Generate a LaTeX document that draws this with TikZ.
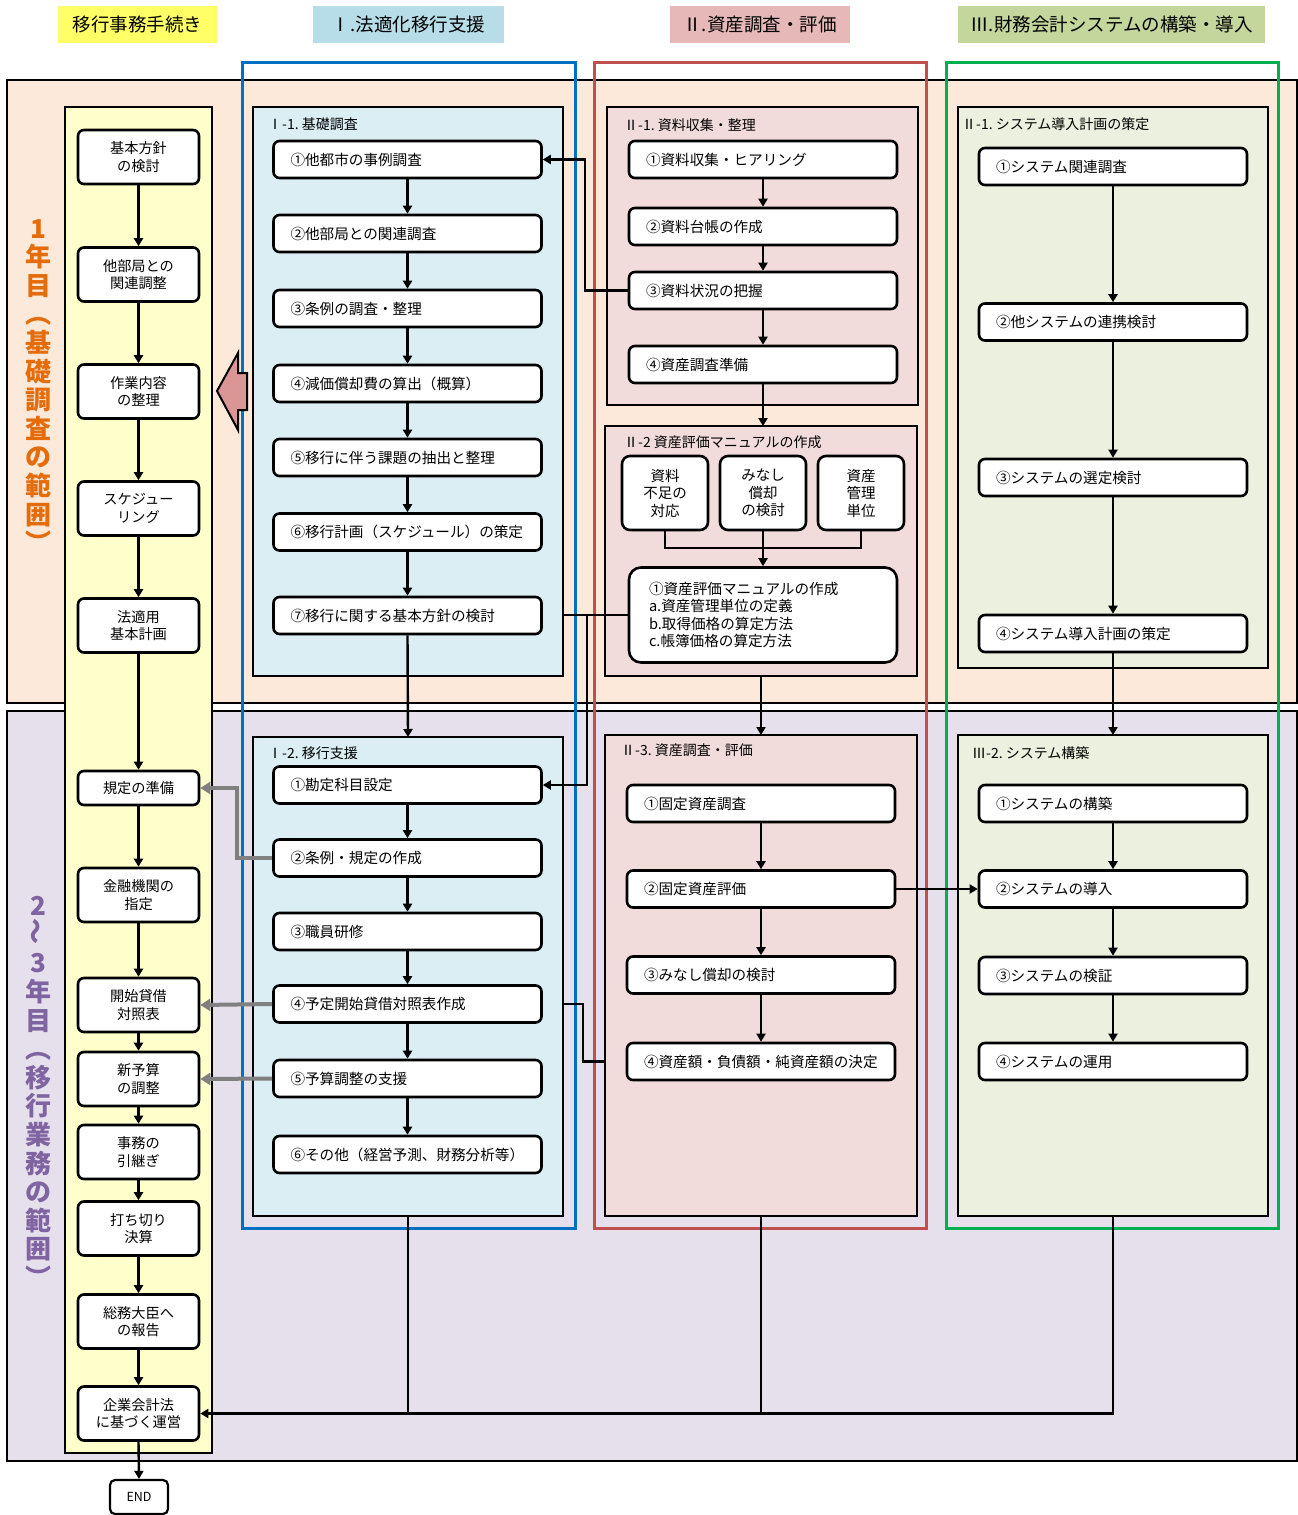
\documentclass[tikz,border=0pt]{standalone}
\usepackage{fontspec}
\usepackage{graphicx}
\setmainfont{Noto Sans CJK JP}
\usetikzlibrary{arrows.meta,calc}
\definecolor{peach}{HTML}{FDE9D9}
\definecolor{lav}{HTML}{E5E0EC}
\definecolor{ycol}{HTML}{FFFFCC}
\definecolor{cblue}{HTML}{DAEEF3}
\definecolor{cpink}{HTML}{F2DCDB}
\definecolor{cgreen}{HTML}{EBF1DE}
\definecolor{oblue}{HTML}{0070C0}
\definecolor{ored}{HTML}{C0504D}
\definecolor{ogreen}{HTML}{00B050}
\definecolor{hyel}{HTML}{FFFF66}
\definecolor{hblue}{HTML}{B7DEE8}
\definecolor{hpink}{HTML}{E6B9B8}
\definecolor{hgreen}{HTML}{C3D69B}
\definecolor{txtor}{HTML}{E46C0A}
\definecolor{txtpu}{HTML}{8064A2}
\definecolor{grayA}{HTML}{808080}
\definecolor{barrow}{HTML}{D99694}
\tikzset{
 stepbox/.style={draw, line width=2.6pt, rounded corners=6pt, fill=white, inner xsep=17pt, inner ysep=0pt, minimum height=37pt, text width=234pt, align=left, font=\fontsize{14.6}{17.5}\selectfont},
 lbox/.style={draw, line width=2.6pt, rounded corners=6pt, fill=white, inner sep=0pt, minimum width=121pt, minimum height=54pt, align=center, font=\fontsize{14.2}{17.5}\selectfont},
 sbox/.style={draw, line width=2.6pt, rounded corners=8pt, fill=white, inner sep=0pt, minimum width=86pt, minimum height=74pt, align=center, font=\fontsize{14.5}{17.5}\selectfont},
 cont/.style={draw, line width=2.6pt, inner sep=0pt, outer sep=0pt},
 zone/.style={draw, line width=3pt, inner sep=0pt, outer sep=0pt},
 conn/.style={line width=2.4pt, -{Triangle[length=8pt,width=9pt]}},
 wire/.style={line width=2.4pt},
 gconn/.style={line width=4pt, draw=grayA, -{Triangle[length=10pt,width=12pt]}},
 hdr/.style={inner sep=0pt, minimum height=37pt, font=\fontsize{18.5}{21}\selectfont},
 clabel/.style={anchor=west, inner sep=0pt, font=\fontsize{14}{16}\selectfont},
 vtext/.style={inner sep=0pt, align=center, font=\fontsize{26}{28.6}\selectfont\bfseries},
}
\begin{document}
\begin{tikzpicture}[x=1pt,y=-1pt]
\useasboundingbox (0,0) rectangle (1298,1515);
% headers
\node[hdr, fill=hyel, minimum width=159pt] (h0) at (137.5,24.5) {移行事務手続き};
\node[hdr, fill=hblue, minimum width=191pt] (h1) at (408.5,24.5) {Ⅰ.法適化移行支援};
\node[hdr, fill=hpink, minimum width=180pt] (h2) at (760,24.5) {Ⅱ.資産調査・評価};
\node[hdr, fill=hgreen, minimum width=307pt] (h3) at (1111.5,24.5) {Ⅲ.財務会計システムの構築・導入};
% bands
\node[cont, fill=peach, minimum width=1290pt, minimum height=623pt] (band1) at (652,391.5) {};
\node[cont, fill=lav, minimum width=1290pt, minimum height=750pt] (band2) at (652,1086) {};
% yellow column
\node[cont, fill=ycol, minimum width=147pt, minimum height=1346pt] (ycolumn) at (138.5,780) {};
% vertical texts
\node[vtext, text=txtor] (v1) at (38,386) {1\\年\\目\\︵\\基\\礎\\調\\査\\の\\範\\囲\\︶};
\node[vtext, text=txtpu] (v2) at (38,1092) {2\\\rotatebox{90}{〜}\\3\\年\\目\\︵\\移\\行\\業\\務\\の\\範\\囲\\︶};
% colored outlines
\node[zone, draw=oblue, minimum width=333pt, minimum height=1166pt] (zone1) at (408.5,645) {};
\node[zone, draw=ored, minimum width=332pt, minimum height=1166pt] (zone2) at (760,645) {};
\node[zone, draw=ogreen, minimum width=332pt, minimum height=1166pt] (zone3) at (1112,645) {};
% containers
\node[cont, fill=cblue, minimum width=310pt, minimum height=569pt] (c11) at (408,391.5) {};
\node[cont, fill=cblue, minimum width=310pt, minimum height=479pt] (c12) at (408,976.5) {};
\node[cont, fill=cpink, minimum width=311pt, minimum height=298pt] (c21) at (762.5,256) {};
\node[cont, fill=cpink, minimum width=312pt, minimum height=250pt] (c22) at (761,551) {};
\node[cont, fill=cpink, minimum width=312pt, minimum height=481pt] (c23) at (761,975.5) {};
\node[cont, fill=cgreen, minimum width=310pt, minimum height=561pt] (c31) at (1113,387.5) {};
\node[cont, fill=cgreen, minimum width=310pt, minimum height=481pt] (c32) at (1113,975.5) {};
% container labels
\node[clabel] (l11) at (268,124) {Ⅰ-1.\ 基礎調査};
\node[clabel] (l12) at (268,753) {Ⅰ-2.\ 移行支援};
\node[clabel] (l21) at (624,125) {Ⅱ-1.\ 資料収集・整理};
\node[clabel] (l22) at (624,442) {Ⅱ-2\ 資産評価マニュアルの作成};
\node[clabel] (l23) at (621,750) {Ⅱ-3.\ 資産調査・評価};
\node[clabel] (l31) at (962,124) {Ⅱ-1.\ システム導入計画の策定};
\node[clabel] (l32) at (972,753) {Ⅲ-2.\ システム構築};
% block arrow
\draw[line width=2pt, fill=barrow] (217,391) -- (238,353) -- (238,373) -- (247,373) -- (247,410) -- (238,410) -- (238,430) -- cycle;
% left column boxes
\node[lbox] (L1) at (138.5,157) {基本方針\\の検討};
\node[lbox] (L2) at (138.5,274.5) {他部局との\\関連調整};
\node[lbox] (L3) at (138.5,391.5) {作業内容\\の整理};
\node[lbox] (L4) at (138.5,508.5) {スケジュー\\リング};
\node[lbox] (L5) at (138.5,625.5) {法適用\\基本計画};
\node[lbox, minimum height=34pt] (L6) at (138.5,788) {規定の準備};
\node[lbox] (L7) at (138.5,895) {金融機関の\\指定};
\node[lbox] (L8) at (138.5,1005) {開始貸借\\対照表};
\node[lbox] (L9) at (138.5,1079) {新予算\\の調整};
\node[lbox] (L10) at (138.5,1152) {事務の\\引継ぎ};
\node[lbox] (L11) at (138.5,1228.5) {打ち切り\\決算};
\node[lbox] (L12) at (138.5,1321.5) {総務大臣へ\\の報告};
\node[lbox] (L13) at (138.5,1413.5) {企業会計法\\に基づく運営};
\node[draw, line width=2.2pt, rounded corners=5pt, fill=white, minimum width=58pt, minimum height=34pt, inner sep=0pt, font=\fontsize{12.5}{14}\selectfont] (end) at (139,1497) {END};
% I-1
\node[stepbox] (i11) at (407.5,159.5) {①他都市の事例調査};
\node[stepbox] (i12) at (407.5,233.5) {②他部局との関連調査};
\node[stepbox] (i13) at (407.5,308.5) {③条例の調査・整理};
\node[stepbox] (i14) at (407.5,383.5) {④減価償却費の算出（概算）};
\node[stepbox] (i15) at (407.5,457.5) {⑤移行に伴う課題の抽出と整理};
\node[stepbox] (i16) at (407.5,532) {⑥移行計画（スケジュール）の策定};
\node[stepbox] (i17) at (407.5,615.5) {⑦移行に関する基本方針の検討};
% I-2
\node[stepbox] (i21) at (407.5,785) {①勘定科目設定};
\node[stepbox] (i22) at (407.5,858) {②条例・規定の作成};
\node[stepbox] (i23) at (407.5,931.5) {③職員研修};
\node[stepbox] (i24) at (407.5,1004) {④予定開始貸借対照表作成};
\node[stepbox] (i25) at (407.5,1078.5) {⑤予算調整の支援};
\node[stepbox] (i26) at (407.5,1154.5) {⑥その他（経営予測、財務分析等）};
% II-1
\node[stepbox] (a1) at (763,159.5) {①資料収集・ヒアリング};
\node[stepbox] (a2) at (763,226.5) {②資料台帳の作成};
\node[stepbox] (a3) at (763,290.5) {③資料状況の把握};
\node[stepbox] (a4) at (763,364.5) {④資産調査準備};
% II-2
\node[sbox] (p1) at (665,493) {資料\\不足の\\対応};
\node[sbox] (p2) at (763,493) {みなし\\償却\\の検討};
\node[sbox] (p3) at (861,493) {資産\\管理\\単位};
\node[stepbox, rounded corners=12pt, inner xsep=20pt, text width=228pt, minimum height=95pt, font=\fontsize{14.6}{17.5}\selectfont] (m1) at (763,615) {①資産評価マニュアルの作成\\a.資産管理単位の定義\\b.取得価格の算定方法\\c.帳簿価格の算定方法};
% II-3
\node[stepbox] (b1) at (761,803.5) {①固定資産調査};
\node[stepbox] (b2) at (761,889) {②固定資産評価};
\node[stepbox] (b3) at (761,975) {③みなし償却の検討};
\node[stepbox] (b4) at (761,1061.5) {④資産額・負債額・純資産額の決定};
% III-1
\node[stepbox] (s11) at (1113,166.5) {①システム関連調査};
\node[stepbox] (s12) at (1113,322) {②他システムの連携検討};
\node[stepbox] (s13) at (1113,477.5) {③システムの選定検討};
\node[stepbox] (s14) at (1113,633.5) {④システム導入計画の策定};
% III-2
\node[stepbox] (s21) at (1113,803.5) {①システムの構築};
\node[stepbox] (s22) at (1113,889) {②システムの導入};
\node[stepbox] (s23) at (1113,975.5) {③システムの検証};
\node[stepbox] (s24) at (1113,1061.5) {④システムの運用};
% coordinates
\coordinate (k1) at (585,290.5);
\coordinate (j1) at (587,615);
\coordinate (k3) at (583,1061.5);
\coordinate (j2) at (763,548);
\coordinate (g1) at (237,858);
% left column flow
\foreach \a/\b in {L1/L2,L2/L3,L3/L4,L4/L5,L5/L6,L6/L7,L7/L8,L8/L9,L9/L10,L10/L11,L11/L12,L12/L13,L13/end}
  \draw[conn] (\a.south) -- (\b.north);
% I flows
\foreach \a/\b in {i11/i12,i12/i13,i13/i14,i14/i15,i15/i16,i16/i17,i21/i22,i22/i23,i23/i24,i24/i25,i25/i26}
  \draw[conn] (\a.south) -- (\b.north);
\draw[conn] (i17.south) -- (c12.north);
% II flows
\foreach \a/\b in {a1/a2,a2/a3,a3/a4,b1/b2,b2/b3,b3/b4}
  \draw[conn] (\a.south) -- (\b.north);
\draw[conn] (a4.south) -- (c22.north -| a4.south);
\draw[wire] (p1.south) |- (j2) -| (p3.south);
\draw[conn] (p2.south) -- (m1.north);
\draw[conn] (c22.south) -- (c23.north);
% III flows
\foreach \a/\b in {s11/s12,s12/s13,s13/s14,s21/s22,s22/s23,s23/s24}
  \draw[conn] (\a.south) -- (\b.north);
\draw[conn] (s14.south) -- (c32.north);
% cross connectors
\draw[conn] (a3.west) -- (k1) |- (i11.east);
\draw[wire] (c11.east |- m1.west) -- (m1.west);
\draw[conn] (j1) |- (i21.east);
\draw[wire] (c12.east |- i24.east) -| (k3) -- (c23.west |- k3);
\draw[conn] (b2.east) -- (s22.west);
% gray connectors
\draw[gconn] (i22.west) -- (g1) |- (L6.east);
\draw[gconn] (i24.west) -- (L8.east);
\draw[gconn] (i25.west) -- (L9.east);
% bottom gathering
\draw[wire] (c12.south) -- (c12.south |- L13.east);
\draw[wire] (c23.south) -- (c23.south |- L13.east);
\draw[conn] (c32.south) |- (L13.east);
\end{tikzpicture}
\end{document}
